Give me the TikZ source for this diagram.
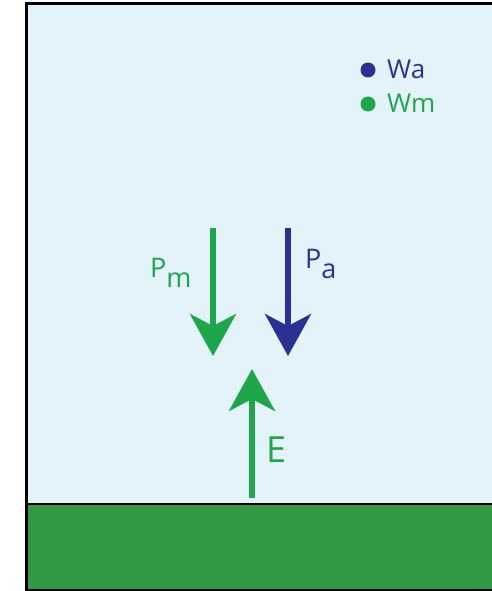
\documentclass[tikz,border=0pt]{standalone}
\usepackage{fontspec}
\setmainfont{Open Sans}
\usetikzlibrary{arrows.meta}
\definecolor{skyb}{HTML}{E4F3FA}
\definecolor{grnd}{HTML}{339944}
\definecolor{agreen}{HTML}{1FA64A}
\definecolor{ablue}{HTML}{2B3192}
\newcommand{\lowsub}[1]{\raisebox{-10pt}{#1}}
\begin{document}
\begin{tikzpicture}[x=1pt,y=-1pt,
  force/.style={line width=5.5pt,-{Stealth[length=42pt,width=46pt,inset=12pt]}},
  lbl/.style={inner sep=0pt,font=\fontsize{27}{29}\selectfont},
  leg/.style={inner sep=0pt,anchor=west,font=\fontsize{26}{28}\selectfont},
  dot/.style={circle,inner sep=0pt,minimum size=15pt}]
\useasboundingbox (0,0) rectangle (492,591);
% sky
\fill[skyb] (26,4) rectangle (500,591);
% ground
\fill[grnd] (26,504) rectangle (500,591);
\draw[line width=2.5pt] (26,504) -- (500,504);
% frame
\draw[line width=3pt] (26,592) -- (26,4) -- (500,4);
\draw[line width=1.5pt] (26,590) -- (500,590);
% legend
\node[dot,fill=ablue] (da) at (368,70) {};
\node[dot,fill=agreen] (dm) at (368,104) {};
\node[leg,text=ablue] (wa) at (387,69) {Wa};
\node[leg,text=agreen] (wm) at (387,103) {Wm};
% arrows
\coordinate (pmS) at (213,228);
\coordinate (pmE) at (213,356);
\coordinate (paS) at (288,228);
\coordinate (paE) at (288,356);
\coordinate (eS) at (252,498);
\coordinate (eE) at (252,369);
\draw[force,agreen] (pmS) -- (pmE);
\draw[force,ablue] (paS) -- (paE);
\draw[force,agreen] (eS) -- (eE);
% labels
\node[lbl,text=agreen,anchor=base west] (pm) at (150,277) {P\lowsub{m}};
\node[lbl,text=ablue,anchor=base west] (pa) at (305,268) {P\lowsub{a}};
\node[lbl,text=agreen,anchor=base west,font=\fontsize{36}{38}\selectfont] (e) at (266,462) {E};
\end{tikzpicture}
\end{document}
